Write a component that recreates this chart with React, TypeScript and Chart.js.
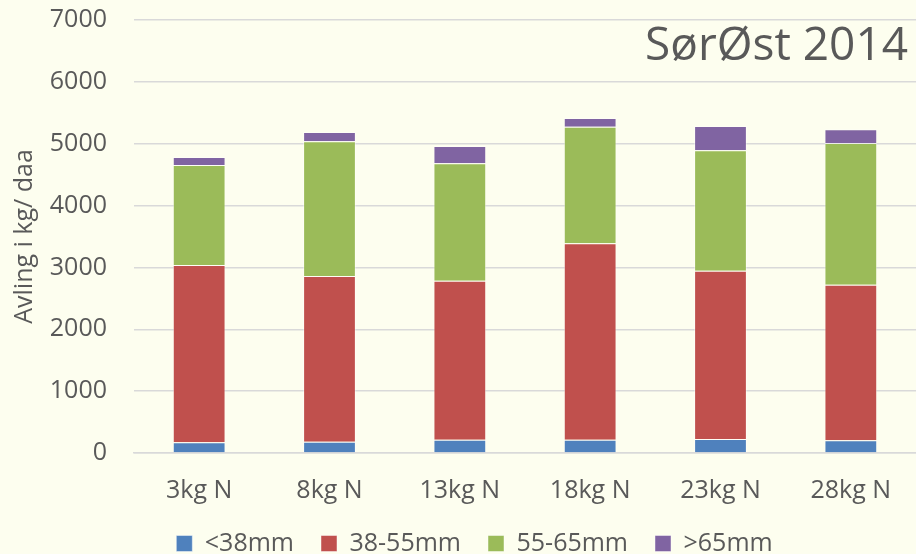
import React, { useEffect, useRef } from "react";
import { Chart, registerables } from "chart.js";

Chart.register(...registerables);

const categories = ["3kg N", "8kg N", "13kg N", "18kg N", "23kg N", "28kg N"];
const seriesNames = ["<38mm", "38-55mm", "55-65mm", ">65mm"];
const under38 = [175, 180, 215, 215, 225, 205];
const from38to55 = [2865, 2680, 2570, 3175, 2720, 2515];
const from55to65 = [1615, 2180, 1900, 1885, 1950, 2290];
const over65 = [130, 150, 280, 140, 390, 222];
const colors = ["#4F81BD", "#C0504D", "#9BBB59", "#8064A2"];
const yTicks = [0, 1000, 2000, 3000, 4000, 5000, 6000, 7000];
const chartTitle = "SørØst 2014";
const yTitle = "Avling i kg/ daa";

const BG = "#FDFEEF";
const TEXT = "#595959";
const FONT = "'Open Sans', 'Liberation Sans', sans-serif";

export default function App() {
  const ref = useRef<HTMLCanvasElement | null>(null);

  useEffect(() => {
    document.body.style.margin = "0";
    document.body.style.background = BG;
    const canvas = ref.current;
    if (!canvas) return;

    const bgPlugin = {
      id: "bg",
      beforeDraw(chart: any) {
        const ctx = chart.ctx;
        ctx.save();
        ctx.fillStyle = BG;
        ctx.fillRect(0, 0, chart.width, chart.height);
        ctx.restore();
      },
    };
    const textPlugin = {
      id: "extraText",
      afterDraw(chart: any) {
        const ctx = chart.ctx;
        const area = chart.chartArea;
        ctx.save();
        ctx.font = `46px ${FONT}`;
        ctx.fillStyle = TEXT;
        ctx.textAlign = "right";
        ctx.textBaseline = "alphabetic";
        ctx.fillText(chartTitle, 908, 60);
        ctx.restore();

        ctx.save();
        ctx.font = `25px ${FONT}`;
        ctx.fillStyle = TEXT;
        ctx.textAlign = "center";
        ctx.textBaseline = "middle";
        ctx.translate(25, (area.top + area.bottom) / 2);
        ctx.rotate(-Math.PI / 2);
        ctx.fillText(yTitle, 0, 0);
        ctx.restore();
      },
    };

    const data = [under38, from38to55, from55to65, over65];
    const chart = new Chart(canvas, {
      type: "bar",
      data: {
        labels: categories,
        datasets: seriesNames.map((name, i) => ({
          label: name,
          data: data[i],
          backgroundColor: colors[i],
          borderColor: "rgba(255,255,255,0.45)",
          borderWidth: 1,
          barPercentage: 0.405,
          categoryPercentage: 1,
        })),
      },
      options: {
        animation: false,
        responsive: false,
        maintainAspectRatio: false,
        layout: { padding: { top: 20, right: -4, left: 29, bottom: -12 } },
        plugins: {
          legend: {
            position: "bottom",
            labels: {
              color: TEXT,
              font: { family: FONT, size: 25 },
              boxWidth: 16,
              boxHeight: 16,
              padding: 27,
            },
          },
          title: { display: false },
          tooltip: { enabled: false },
        },
        scales: {
          x: {
            stacked: true,
            grid: { display: false, drawTicks: false },
            border: { display: true, color: "#D9D9D9", width: 1.5 },
            ticks: { color: TEXT, font: { family: FONT, size: 25 }, padding: 23 },
            afterFit: (s: any) => {
              s.height = 51;
              s.paddingLeft = 0;
              s.paddingRight = 0;
            },
          },
          y: {
            stacked: true,
            min: 0,
            max: 7000,
            afterBuildTicks: (s: any) => {
              s.ticks = yTicks.map((v) => ({ value: v }));
            },
            grid: { color: "#D9D9D9", lineWidth: 1.5, drawTicks: false },
            border: { display: false },
            ticks: {
              color: TEXT,
              font: { family: FONT, size: 25 },
              padding: 27,
              callback: (v: any) => String(v),
            },
            afterFit: (s: any) => {
              s.width = 105;
              s.paddingTop = 0;
              s.paddingBottom = 0;
            },
          },
        },
      },
      plugins: [bgPlugin, textPlugin],
    });
    return () => chart.destroy();
  }, []);

  return (
    <div style={{ width: 916, height: 554, background: BG }}>
      <canvas ref={ref} width={916} height={554} style={{ display: "block" }} />
    </div>
  );
}
